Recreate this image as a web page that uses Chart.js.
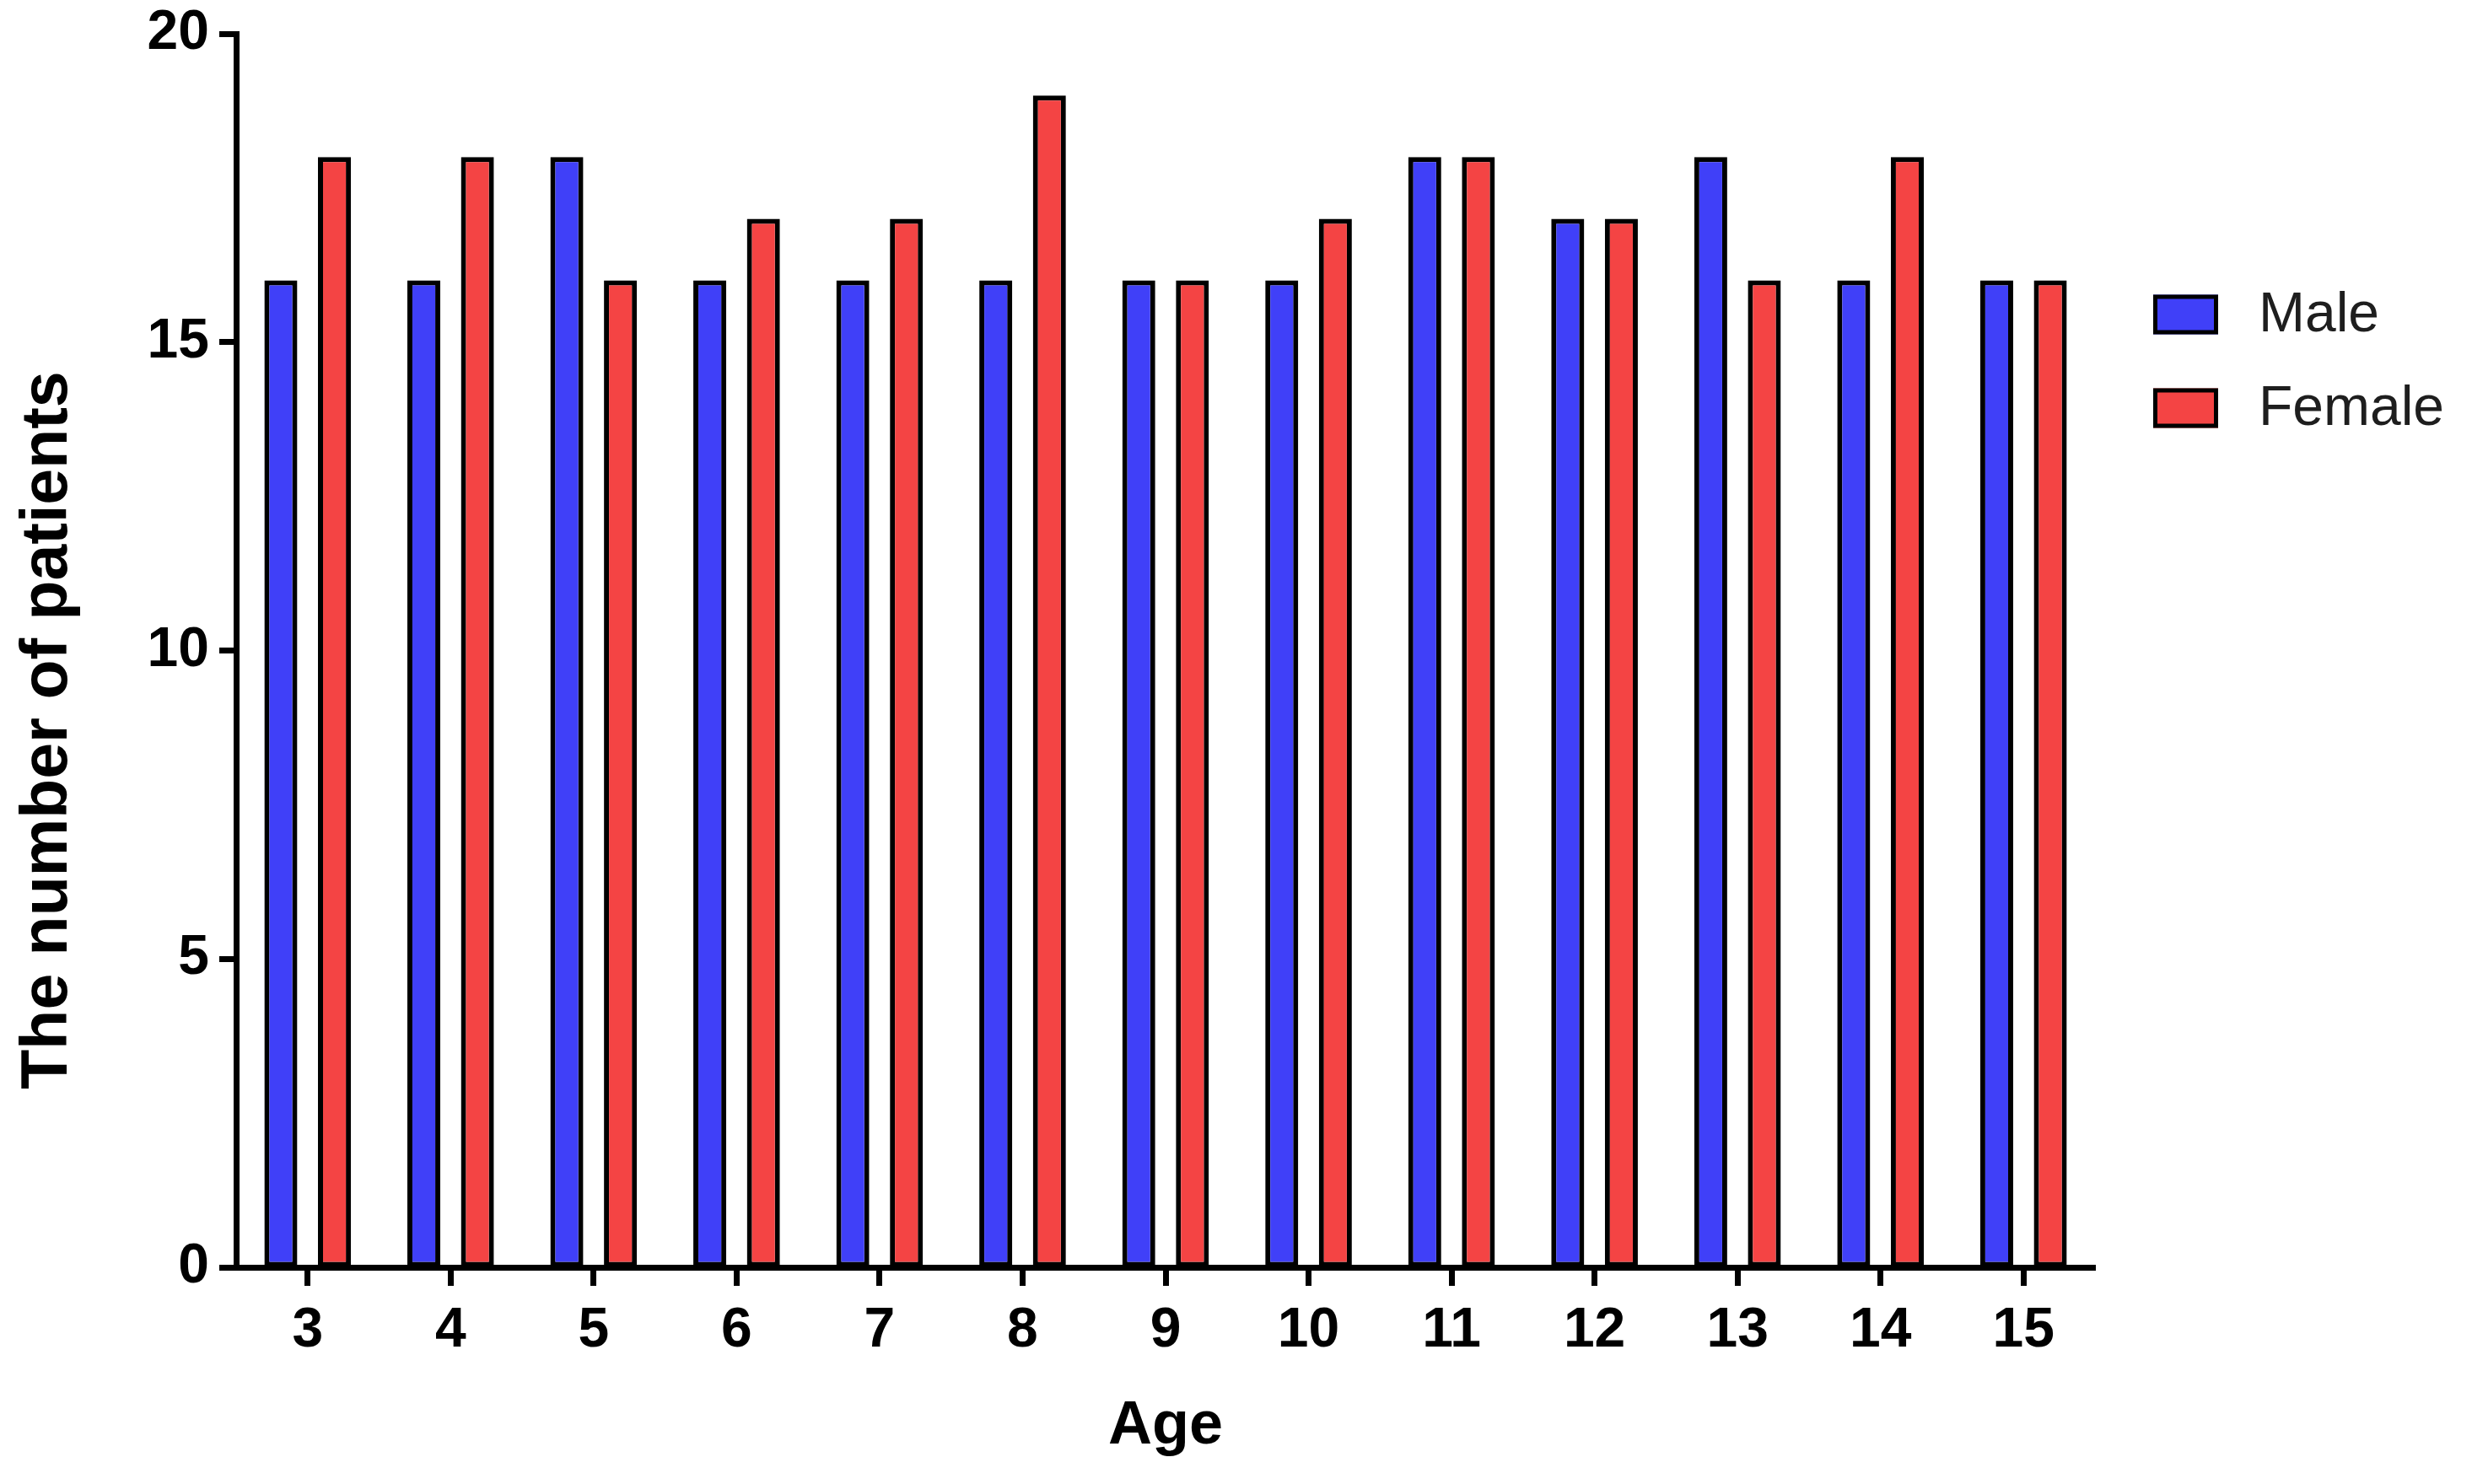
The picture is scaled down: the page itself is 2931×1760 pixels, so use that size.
<!DOCTYPE html>
<html>
<head>
<meta charset="utf-8">
<script src="https://cdn.jsdelivr.net/npm/chart.js@4.4.1/dist/chart.umd.min.js"></script>
<style>
  html, body { margin: 0; padding: 0; background: #ffffff; }
  #wrap { width: 2931px; height: 1760px; position: relative; }
  canvas { display: block; }
</style>
</head>
<body>
<div id="wrap"><canvas id="c" width="2931" height="1760"></canvas></div>
<script>
// ---- Data ----
const ages = ['3', '4', '5', '6', '7', '8', '9', '10', '11', '12', '13', '14', '15'];
const maleCounts = [16, 16, 18, 16, 16, 16, 16, 16, 18, 17, 18, 16, 16];
const femaleCounts = [18, 18, 16, 17, 17, 19, 16, 17, 18, 17, 16, 18, 16];
const seriesNames = ['Male', 'Female'];
const yTickValues = [0, 5, 10, 15, 20];
const xTitle = 'Age';
const yTitle = 'The number of patients';

const FONT = "'Liberation Sans', Arial, Helvetica, sans-serif";

// Legend + y-axis title drawn on the canvas from the chart's own labels/colours
const sideLegend = {
  id: 'sideLegend',
  afterDraw(chart, args, opts) {
    const ctx = chart.ctx;
    const area = chart.chartArea;
    ctx.save();
    chart.data.datasets.forEach((ds, i) => {
      const cy = area.top + opts.firstRow + i * opts.rowGap;
      const bx = area.right + opts.boxOffset;
      const bw = opts.boxWidth, bh = opts.boxHeight, lw = opts.lineWidth;
      ctx.fillStyle = ds.backgroundColor;
      ctx.fillRect(bx, cy - bh / 2, bw, bh);
      ctx.strokeStyle = ds.borderColor;
      ctx.lineWidth = lw;
      ctx.strokeRect(bx + lw / 2, cy - bh / 2 + lw / 2, bw - lw, bh - lw);
      ctx.fillStyle = opts.color;
      ctx.font = opts.font;
      ctx.textAlign = 'left';
      ctx.textBaseline = 'middle';
      ctx.fillText(ds.label, bx + bw + opts.textGap, cy + 2);
    });
    // y-axis title (sits below the axis centre in the reference)
    ctx.translate(opts.yTitleX, area.bottom - opts.yTitleFromBottom);
    ctx.rotate(-Math.PI / 2);
    ctx.fillStyle = '#000000';
    ctx.font = opts.yTitleFont;
    ctx.textAlign = 'center';
    ctx.textBaseline = 'middle';
    ctx.fillText(yTitle, 0, 0);
    ctx.restore();
  }
};

new Chart(document.getElementById('c'), {
  type: 'bar',
  data: {
    labels: ages,
    datasets: [
      {
        label: seriesNames[0],
        data: maleCounts,
        backgroundColor: '#4040F8',
        borderColor: '#000000',
        borderWidth: 6,
        borderSkipped: false,
        categoryPercentage: 0.75,
        barPercentage: 0.615
      },
      {
        label: seriesNames[1],
        data: femaleCounts,
        backgroundColor: '#F44444',
        borderColor: '#000000',
        borderWidth: 6,
        borderSkipped: false,
        categoryPercentage: 0.75,
        barPercentage: 0.615
      }
    ]
  },
  options: {
    responsive: false,
    animation: false,
    devicePixelRatio: 1,
    layout: { padding: { top: 40, right: 447, bottom: 0, left: 0 } },
    plugins: {
      legend: { display: false },
      tooltip: { enabled: false },
      sideLegend: {
        firstRow: 333,
        rowGap: 111,
        boxOffset: 69,
        boxWidth: 77,
        boxHeight: 47,
        lineWidth: 5,
        textGap: 48,
        color: '#1e1e1e',
        font: "66px " + FONT,
        yTitleX: 58,
        yTitleFromBottom: 637,
        yTitleFont: "bold 77px " + FONT
      }
    },
    scales: {
      x: {
        type: 'category',
        offset: true,
        afterFit(scale) { scale.height = 257; scale.paddingLeft = 0; scale.paddingRight = 0; },
        grid: {
          offset: false,
          drawOnChartArea: false,
          drawTicks: true,
          tickLength: 22,
          tickWidth: 7,
          tickColor: '#000000'
        },
        border: { display: true, color: '#000000', width: 7 },
        ticks: {
          color: '#000000',
          padding: 14,
          maxRotation: 0,
          autoSkip: false,
          font: { family: FONT, size: 66, weight: 'bold' }
        },
        title: {
          display: true,
          text: xTitle,
          color: '#000000',
          font: { family: FONT, size: 72, weight: 'bold' },
          padding: { top: 0, bottom: 25 }
        }
      },
      y: {
        min: 0,
        max: 20,
        afterFit(scale) { scale.width = 280; scale.paddingTop = 0; scale.paddingBottom = 0; },
        afterBuildTicks(scale) { scale.ticks = yTickValues.map(v => ({ value: v })); },
        grid: {
          drawOnChartArea: false,
          drawTicks: true,
          tickLength: 20,
          tickWidth: 7,
          tickColor: '#000000'
        },
        border: { display: true, color: '#000000', width: 7 },
        ticks: {
          color: '#000000',
          padding: 12,
          font: { family: FONT, size: 66, weight: 'bold' }
        },
        title: { display: false, text: yTitle }
      }
    }
  },
  plugins: [sideLegend]
});
</script>
</body>
</html>
